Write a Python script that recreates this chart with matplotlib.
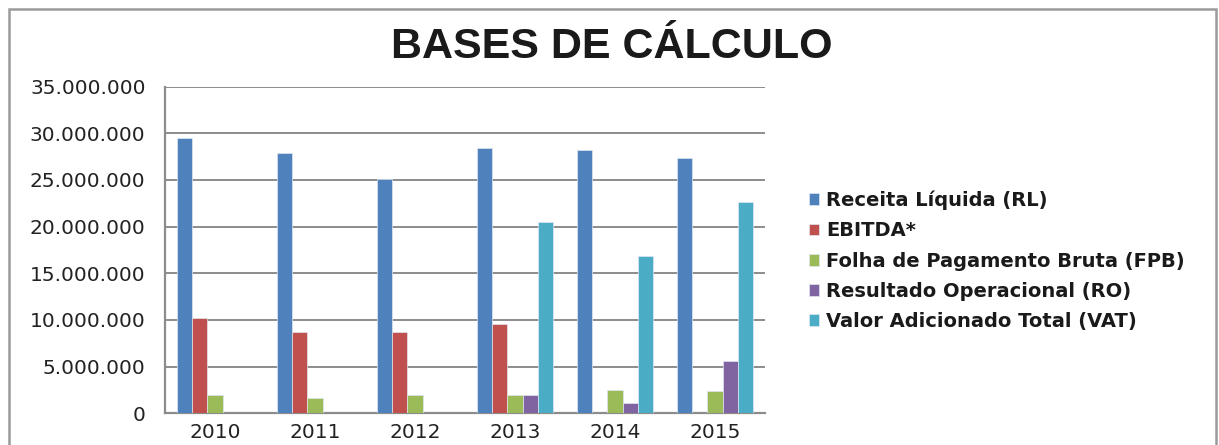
import numpy as np
import matplotlib.pyplot as plt
from matplotlib.patches import Rectangle
from matplotlib.ticker import FuncFormatter

# values (R$)
years = ["2010", "2011", "2012", "2013", "2014", "2015"]
receita_liquida = [29_460_000, 27_860_000, 25_100_000, 28_400_000, 28_200_000, 27_300_000]
ebitda = [10_250_000, 8_710_000, 8_750_000, 9_540_000, np.nan, np.nan]
folha_pagamento = [1_960_000, 1_640_000, 1_960_000, 1_960_000, 2_500_000, 2_400_000]
resultado_operacional = [np.nan, np.nan, np.nan, 1_960_000, 1_100_000, 5_640_000]
valor_adicionado = [np.nan, np.nan, np.nan, 20_460_000, 16_860_000, 22_680_000]

series = [
    ("Receita Líquida (RL)", receita_liquida, "#4F81BD"),
    ("EBITDA*", ebitda, "#C0504D"),
    ("Folha de Pagamento Bruta (FPB)", folha_pagamento, "#9BBB59"),
    ("Resultado Operacional (RO)", resultado_operacional, "#8064A2"),
    ("Valor Adicionado Total (VAT)", valor_adicionado, "#4BACC6"),
]

W, H, DPI = 1219, 445, 100
fig = plt.figure(figsize=(W / DPI, H / DPI), dpi=DPI)
fig.patch.set_facecolor("white")

# outer chart frame
fig.add_artist(Rectangle((9 / W, -0.05), (1216 - 9) / W, 1.05 - 9 / H,
                         transform=fig.transFigure, fill=False,
                         edgecolor="#9a9a9a", linewidth=1.8))

ax = fig.add_axes([165 / W, (H - 413.3) / H, 600 / W, 326.7 / H])

x = np.arange(len(years))
bw = 0.153
for i, (label, vals, color) in enumerate(series):
    ax.bar(x - 2 * bw + i * bw, vals, width=bw, color=color, label=label,
           edgecolor="#dfe6ef", linewidth=0.5, zorder=3)

ax.set_xlim(-0.5, len(years) - 0.5)
ax.set_ylim(0, 35_000_000)
ax.set_yticks(np.arange(0, 35_000_001, 5_000_000))
ax.yaxis.set_major_formatter(FuncFormatter(lambda v, p: f"{int(v):,}".replace(",", ".")))
ax.set_xticks(x)
ax.set_xticklabels(years)
ax.grid(axis="y", color="#8c8c8c", linewidth=1.4, zorder=0)
ax.tick_params(axis="y", length=0, pad=14, labelsize=14.5, labelcolor="#222222")
ax.tick_params(axis="x", length=0, pad=7, labelsize=14.5, labelcolor="#222222")
for s in ("top", "right"):
    ax.spines[s].set_visible(False)
for s in ("left", "bottom"):
    ax.spines[s].set_color("#8c8c8c")
    ax.spines[s].set_linewidth(1.6)

fig.text(612 / W, 1 - 47 / H, "BASES DE CÁLCULO", ha="center", va="center",
         fontsize=31, fontweight="bold", family="Liberation Sans", color="#1a1a1a")

leg = fig.legend(loc="upper left", bbox_to_anchor=(791 / W, 1 - 173 / H),
                 frameon=False, handlelength=0.55, handleheight=0.55,
                 handletextpad=0.35, labelspacing=0.58,
                 prop={"size": 14, "weight": "bold"})
for t in leg.get_texts():
    t.set_color("#1a1a1a")

fig.savefig("out.png", dpi=DPI)
